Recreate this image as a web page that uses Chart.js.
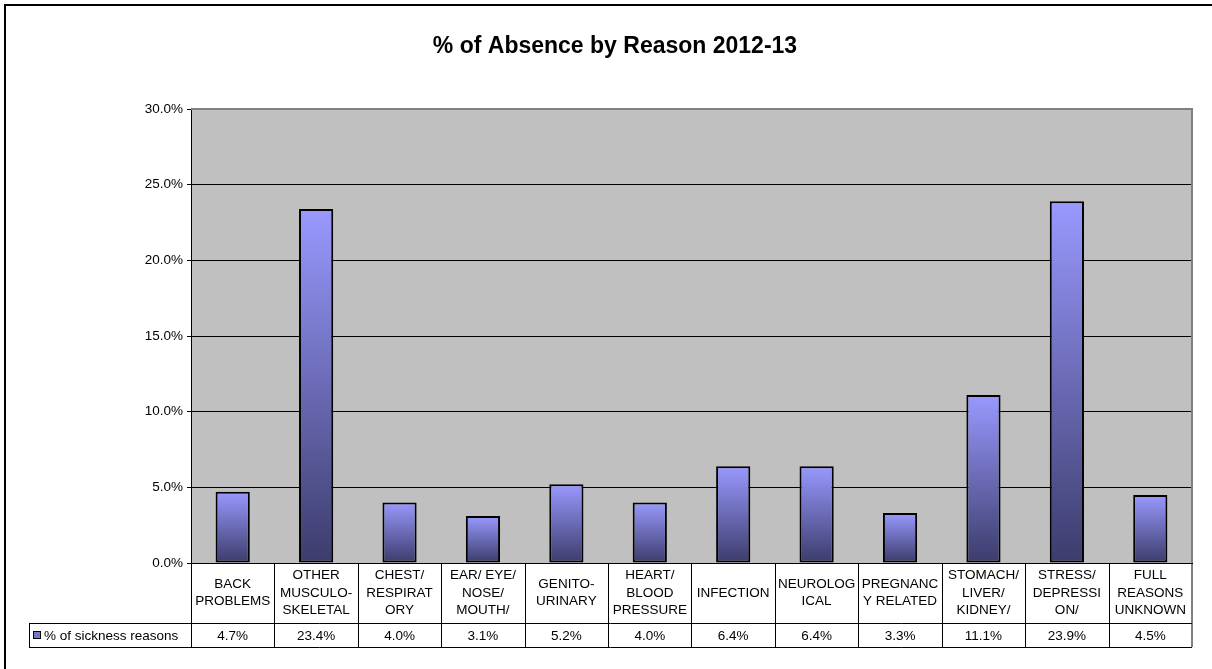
<!DOCTYPE html>
<html>
<head>
<meta charset="utf-8">
<script src="https://cdn.jsdelivr.net/npm/chart.js@4"></script>
<style>
  html, body { margin: 0; padding: 0; background: #fff; }
  #wrap { width: 1212px; height: 669px; }
</style>
</head>
<body>
<div id="wrap"><canvas id="myChart" width="1212" height="669"></canvas></div>
<script>
// chart data
var chartTitle = "% of Absence by Reason 2012-13";
var seriesName = "% of sickness reasons";
var categories = [
  ["BACK", "PROBLEMS"],
  ["OTHER", "MUSCULO-", "SKELETAL"],
  ["CHEST/", "RESPIRAT", "ORY"],
  ["EAR/ EYE/", "NOSE/", "MOUTH/"],
  ["GENITO-", "URINARY"],
  ["HEART/", "BLOOD", "PRESSURE"],
  ["INFECTION"],
  ["NEUROLOG", "ICAL"],
  ["PREGNANC", "Y RELATED"],
  ["STOMACH/", "LIVER/", "KIDNEY/"],
  ["STRESS/", "DEPRESSI", "ON/"],
  ["FULL", "REASONS", "UNKNOWN"]
];
var sicknessValues = [4.7, 23.4, 4.0, 3.1, 5.2, 4.0, 6.4, 6.4, 3.3, 11.1, 23.9, 4.5];
var yTicks = [0, 5, 10, 15, 20, 25, 30];

var FONT = "'Liberation Sans', Arial, sans-serif";
var ctx = document.getElementById("myChart").getContext("2d");

// grey plot area, border lines, title and the data table under the chart
var excelLook = {
  id: "excelLook",
  beforeDraw: function (chart) {
    var a = chart.chartArea, c = chart.ctx;
    c.save();
    c.fillStyle = "#C0C0C0";
    c.fillRect(a.left, a.top, a.right - a.left, a.bottom - a.top);
    c.restore();
  },
  beforeDatasetsDraw: function (chart) {
    // each bar gets its own top-to-bottom shade
    chart.getDatasetMeta(0).data.forEach(function (el) {
      if (!isFinite(el.y) || !isFinite(el.base)) return;
      var g = chart.ctx.createLinearGradient(0, el.y, 0, el.base);
      g.addColorStop(0, "#9999FF");
      g.addColorStop(1, "#3C3C6C");
      el.options.backgroundColor = g;
    });
  },
  afterDraw: function (chart) {
    var a = chart.chartArea, c = chart.ctx, x = chart.scales.x;
    c.save();

    // outer frame (left + top visible)
    c.strokeStyle = "#000";
    c.lineWidth = 2;
    c.beginPath();
    c.moveTo(5, 669); c.lineTo(5, 5); c.lineTo(1212, 5);
    c.stroke();

    // plot area top / right edge
    c.strokeStyle = "#808080";
    c.lineWidth = 2;
    c.beginPath();
    c.moveTo(a.left, a.top); c.lineTo(a.right, a.top); c.lineTo(a.right, a.bottom);
    c.stroke();

    // title
    c.fillStyle = "#000";
    c.font = "bold 23px " + FONT;
    c.textAlign = "center";
    c.textBaseline = "middle";
    c.fillText(chartTitle, 615, 47);

    // data table
    var half = (a.right - a.left) / categories.length / 2;
    var top = a.bottom, mid = a.bottom + 60, bot = a.bottom + 84, legLeft = 29;
    c.strokeStyle = "#000";
    c.lineWidth = 1;
    c.beginPath();
    c.moveTo(legLeft, mid + 0.5); c.lineTo(a.right, mid + 0.5);
    c.moveTo(legLeft, bot + 0.5); c.lineTo(a.right, bot + 0.5);
    c.moveTo(legLeft + 0.5, mid); c.lineTo(legLeft + 0.5, bot);
    for (var i = 0; i <= categories.length; i++) {
      var lx = Math.round(x.getPixelForValue(i) - half) + 0.5;
      if (i === categories.length) lx = a.right;
      c.moveTo(lx, top); c.lineTo(lx, bot);
    }
    c.stroke();

    c.font = "13.5px " + FONT;
    categories.forEach(function (lines, i) {
      var cx = x.getPixelForValue(i);
      var lh = 17.5;
      var y0 = (top + mid) / 2 - (lines.length - 1) * lh / 2;
      lines.forEach(function (t, k) { c.fillText(t, cx, y0 + k * lh); });
      c.fillText(sicknessValues[i].toFixed(1) + "%", cx, (mid + bot) / 2 + 1);
    });

    // legend key in the table
    c.fillStyle = "#7777CC";
    c.fillRect(33, mid + 8, 8, 8);
    c.strokeStyle = "#000";
    c.strokeRect(33.5, mid + 8.5, 7, 7);
    c.fillStyle = "#000";
    c.textAlign = "left";
    c.fillText(seriesName, 44, (mid + bot) / 2 + 1);

    c.restore();
  }
};

var myChart = new Chart(ctx, {
  type: "bar",
  data: {
    labels: categories,
    datasets: [
      {
        label: seriesName,
        data: sicknessValues,
        borderColor: "#000",
        borderWidth: 2,
        borderSkipped: false,
        barPercentage: 0.41,
        categoryPercentage: 1,
        // scriptable so every bar keeps its own options object
        backgroundColor: function (c) { return "#9999FF"; },
      },
    ],
  },
  options: {
    responsive: false,
    animation: false,
    devicePixelRatio: 1,
    layout: { padding: { left: 0, top: 109, right: 20, bottom: 106 } },
    plugins: {
      legend: { display: false },
      title: { display: false },
      tooltip: { enabled: false },
    },
    scales: {
      x: {
        ticks: { display: false },
        grid: { display: false },
        border: { display: true, color: "#000", width: 1 },
        afterFit: function (s) { s.height = 0; },
      },
      y: {
        min: yTicks[0],
        max: yTicks[yTicks.length - 1],
        afterBuildTicks: function (s) {
          s.ticks = yTicks.map(function (v) { return { value: v }; });
        },
        ticks: {
          color: "#000",
          font: { family: FONT, size: 13.5 },
          padding: 4,
          callback: function (v) { return v.toFixed(1) + "%"; },
        },
        grid: { color: "#000", lineWidth: 1, tickLength: 4 },
        border: { display: true, color: "#000", width: 1 },
        afterFit: function (s) { s.width = 191; },
      },
    },
  },
  plugins: [excelLook],
});
</script>
</body>
</html>
